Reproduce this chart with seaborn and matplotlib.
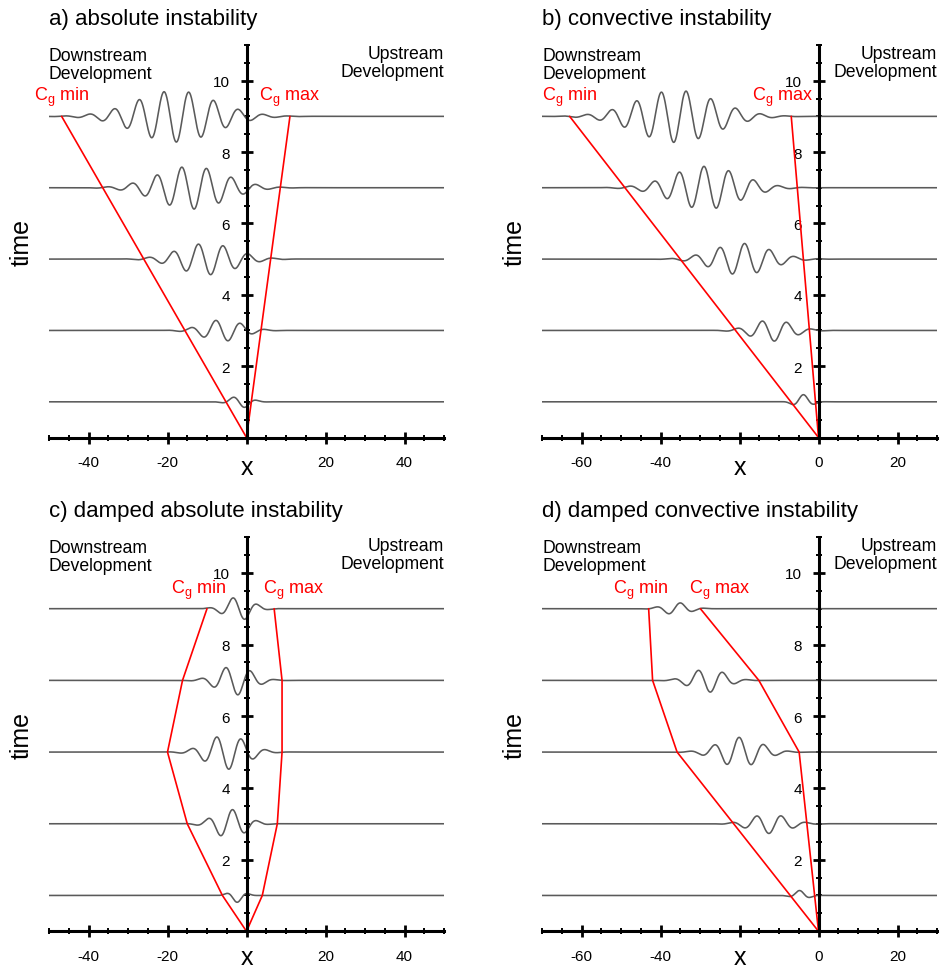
import numpy as np
import matplotlib
matplotlib.use("Agg")
import matplotlib.pyplot as plt
from matplotlib.ticker import MultipleLocator, FixedLocator, FixedFormatter
import seaborn as sns

sns.set_theme(style="white")
plt.rcParams["font.family"] = ["Liberation Sans", "DejaVu Sans"]
plt.rcParams["axes.unicode_minus"] = False
plt.rcParams["mathtext.fontset"] = "custom"
plt.rcParams["mathtext.rm"] = "Liberation Sans"
plt.rcParams["mathtext.it"] = "Liberation Sans"
plt.rcParams["text.color"] = "black"
plt.rcParams["xtick.color"] = "black"
plt.rcParams["ytick.color"] = "black"

# ---------------- data ----------------
titles = ["a) absolute instability", "b) convective instability",
          "c) damped absolute instability", "d) damped convective instability"]
xlims = [(-50, 50), (-70, 30), (-50, 50), (-70, 30)]
packet_times = [1, 3, 5, 7, 9]

# wave packets: amplitude, envelope centre, envelope width, crest position
a_amp = [0.17, 0.30, 0.44, 0.60, 0.72]
a_center = [-1.5, -6.0, -10.0, -14.0, -18.0]
a_width = [3.5, 7.0, 10.0, 12.0, 14.0]
a_crest = [-3.5, -7.8, -12.2, -16.4, -20.9]

b_amp = [0.20, 0.30, 0.44, 0.60, 0.73]
b_center = [-3.9, -11.7, -19.5, -28.5, -36.0]
b_width = [2.8, 7.0, 10.0, 12.0, 14.0]
b_crest = [-3.8, -14.3, -18.7, -29.0, -39.8]

c_amp = [0.19, 0.40, 0.48, 0.41, 0.33]
c_center = [-2.4, -4.2, -5.0, -3.0, -2.0]
c_width = [2.5, 5.5, 7.0, 6.0, 4.7]
c_crest = [-5.5, -3.5, -7.6, -5.3, -3.5]

d_amp = [0.14, 0.27, 0.41, 0.33, 0.17]
d_center = [-4.5, -12.5, -20.0, -28.0, -36.0]
d_width = [2.5, 6.7, 7.5, 6.0, 4.5]
d_crest = [-4.9, -15.7, -20.1, -30.5, -34.9]

# group-velocity bounds (red lines)
a_cgmin_t = [0, 9]; a_cgmin_x = [0, -46.8]
a_cgmax_t = [0, 9]; a_cgmax_x = [0, 11.0]
b_cgmin_t = [0, 9]; b_cgmin_x = [0, -63.0]
b_cgmax_t = [0, 9]; b_cgmax_x = [0, -6.9]
c_cgmin_t = [0, 1, 3, 5, 7, 9]; c_cgmin_x = [0, -6.1, -15.0, -20.0, -16.2, -10.0]
c_cgmax_t = [0, 1, 3, 5, 7, 9]; c_cgmax_x = [0, 4.0, 7.8, 9.0, 9.0, 7.0]
d_cgmin_t = [0, 5, 7, 9]; d_cgmin_x = [0, -35.8, -42.0, -43.0]
d_cgmax_t = [0, 5, 7, 9]; d_cgmax_x = [0, -4.9, -15.1, -29.9]

# label positions of the Cg texts (x)
cgmin_label_x = [-46.8, -63.0, -12.0, -45.0]
cgmax_label_x = [11.0, -9.1, 11.9, -25.0]
cg_label_t = 9.55

x_ticks = [[-40, -20, 0, 20, 40], [-60, -40, -20, 0, 20],
           [-40, -20, 0, 20, 40], [-60, -40, -20, 0, 20]]
x_ticklabels = [["-40", "-20", "", "20", "40"], ["-60", "-40", "", "0", "20"],
                ["-40", "-20", "", "20", "40"], ["-60", "-40", "", "0", "20"]]
y_ticks = [2, 4, 6, 8, 10]
y_ticklabels = ["2", "4", "6", "8", "10"]

packets = [(a_amp, a_center, a_width, a_crest), (b_amp, b_center, b_width, b_crest),
           (c_amp, c_center, c_width, c_crest), (d_amp, d_center, d_width, d_crest)]
cgmins = [(a_cgmin_t, a_cgmin_x), (b_cgmin_t, b_cgmin_x), (c_cgmin_t, c_cgmin_x), (d_cgmin_t, d_cgmin_x)]
cgmaxs = [(a_cgmax_t, a_cgmax_x), (b_cgmax_t, b_cgmax_x), (c_cgmax_t, c_cgmax_x), (d_cgmax_t, d_cgmax_x)]

# ---------------- figure ----------------
W, H = 941, 970
fig = plt.figure(figsize=(W / 100, H / 100), dpi=100)

lefts_px = [49, 542, 49, 542]
tops_px = [46, 46, 538, 538]
bottoms_px = [438.5, 438.5, 932.3, 932.3]
width_px = 395
title_y_px = [19, 19, 512, 512]
xlabel_y = [-0.093, -0.093, -0.084, -0.084]

wave_color = "#5a5a5a"
for i in range(4):
    l = lefts_px[i] / W
    b = 1 - bottoms_px[i] / H
    h = (bottoms_px[i] - tops_px[i]) / H
    ax = fig.add_axes([l, b, width_px / W, h])
    x0, x1 = xlims[i]
    xs = np.linspace(x0, x1, 2500)
    amp, cen, wid, crest = packets[i]
    for t, A, c, s, p in zip(packet_times, amp, cen, wid, crest):
        ys = t + A * np.exp(-((xs - c) / s) ** 2) * np.cos(xs - p)
        sns.lineplot(x=xs, y=ys, ax=ax, color=wave_color, lw=1.15, sort=False,
                     estimator=None, zorder=2)
    for (tt, xx) in (cgmins[i], cgmaxs[i]):
        sns.lineplot(x=xx, y=tt, ax=ax, color="red", lw=1.2, sort=False,
                     estimator=None, zorder=3)

    ax.set_xlim(x0, x1)
    ax.set_ylim(0, 11)
    for side in ("top", "right"):
        ax.spines[side].set_visible(False)
    ax.spines["left"].set_position(("data", 0))
    for side in ("left", "bottom"):
        ax.spines[side].set_linewidth(2.2)
        ax.spines[side].set_color("black")
        ax.spines[side].set_zorder(4)

    ax.xaxis.set_major_locator(FixedLocator(x_ticks[i]))
    ax.xaxis.set_major_formatter(FixedFormatter(x_ticklabels[i]))
    ax.xaxis.set_minor_locator(MultipleLocator(5))
    ax.yaxis.set_major_locator(FixedLocator(y_ticks))
    ax.yaxis.set_major_formatter(FixedFormatter(y_ticklabels))
    ax.yaxis.set_minor_locator(MultipleLocator(0.5))
    ax.tick_params(which="major", direction="inout", length=8.6, width=2.0,
                   color="black", labelsize=11, labelcolor="black")
    ax.tick_params(which="minor", direction="inout", length=4.3, width=1.4,
                   color="black")
    ax.tick_params(axis="x", which="both", bottom=True)
    ax.tick_params(axis="y", which="both", left=True)
    ax.tick_params(axis="x", which="major", pad=8.5)
    ax.tick_params(axis="y", which="major", pad=7.5)
    ax.set_xlabel("")
    ax.set_ylabel("")
    ax.grid(False)
    ax.set_facecolor("none")

    ax.text(0.5, xlabel_y[i], "x", transform=ax.transAxes, ha="center", va="baseline",
            fontsize=18)
    ax.text(-0.07, 0.5, "time", transform=ax.transAxes, ha="center", va="center",
            rotation=90, fontsize=18)
    ax.text(0.0, 0.995, "Downstream\nDevelopment", transform=ax.transAxes,
            ha="left", va="top", fontsize=12.7, linespacing=1.05)
    ax.text(1.0, 1.0, "Upstream\nDevelopment", transform=ax.transAxes,
            ha="right", va="top", fontsize=12.7, linespacing=1.05, multialignment="right")
    ax.text(cgmin_label_x[i], cg_label_t, r"$\mathregular{C_g}$ min", color="red",
            ha="center", va="center", fontsize=13)
    ax.text(cgmax_label_x[i], cg_label_t, r"$\mathregular{C_g}$ max", color="red",
            ha="center", va="center", fontsize=13)

    fig.text(lefts_px[i] / W, 1 - title_y_px[i] / H, titles[i], ha="left",
             va="center", fontsize=16)

fig.savefig("out.png", dpi=100)
